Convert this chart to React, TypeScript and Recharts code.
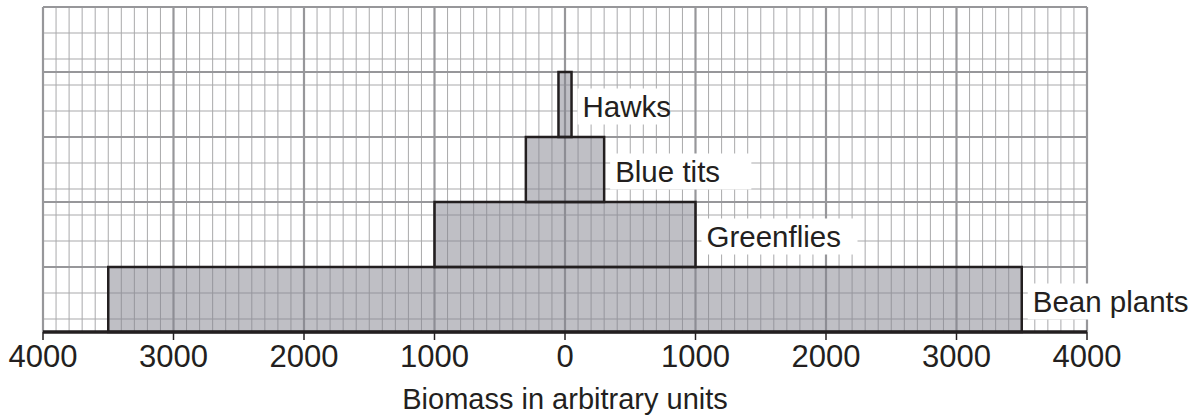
import React from "react";
import { ComposedChart, XAxis, YAxis, CartesianGrid, ReferenceArea, ReferenceLine, Label } from "recharts";

// Pyramid of biomass: each trophic level is a box centred on 0.
const levels = ["Bean plants", "Greenflies", "Blue tits", "Hawks"];
const biomass = [7000, 2000, 600, 100];
const xTicks = [-4000, -3000, -2000, -1000, 0, 1000, 2000, 3000, 4000];

const minorX: number[] = [];
for (let v = -4000; v <= 4000; v += 100) minorX.push(v);
const minorY: number[] = [];
for (let i = 0; i <= 25; i++) minorY.push(i / 5);
const majorY = [0, 1, 2, 3, 4, 5];

const rows = levels.map((name, i) => ({ name, level: i, hi: biomass[i] / 2 }));

const FONT = "'Liberation Sans', Arial, sans-serif";
const INK = "#231f20";

function SideLabel(props: any) {
  const vb = props.viewBox || {};
  const text: string = props.text;
  const x = vb.x + vb.width + 11;
  const cy = vb.y + vb.height / 2 + 2;
  const w = text.length * 14.8 + 8;
  return (
    <g>
      <rect x={x - 5} y={cy - 18} width={w} height={36} fill="#fff" />
      <text x={x} y={cy} dominantBaseline="central" fontSize={29.5} fontFamily={FONT} fill={INK}>
        {text}
      </text>
    </g>
  );
}

export default function App() {
  return (
    <div style={{ position: "absolute", left: 0, top: 0 }}>
      <ComposedChart width={1194} height={417} data={rows} margin={{ top: 7, right: 107, left: 43, bottom: 0 }}>
        <XAxis
          type="number"
          dataKey="hi"
          domain={[-4000, 4000]}
          ticks={xTicks}
          tickFormatter={(v: number) => String(Math.abs(v))}
          height={85}
          tickSize={8}
          tickMargin={5}
          tick={{ fontSize: 31, fontFamily: FONT, fill: INK }}
          axisLine={false}
          tickLine={{ stroke: INK, strokeWidth: 1.5 }}
          interval={0}
          allowDataOverflow
        >
          <Label value="Biomass in arbitrary units" position="insideBottom" offset={8} style={{ fontSize: 29, fontFamily: FONT, fill: INK }} />
        </XAxis>
        <YAxis type="number" dataKey="level" domain={[0, 5]} hide allowDataOverflow />
        <CartesianGrid verticalValues={minorX} horizontalValues={minorY} stroke="#a9a9ab" strokeWidth={1} />
        <CartesianGrid verticalValues={xTicks} horizontalValues={majorY} stroke="#97979a" strokeWidth={2.2} />
        {levels.map((name, i) => (
          <ReferenceArea
            key={name}
            x1={-biomass[i] / 2}
            x2={biomass[i] / 2}
            y1={i}
            y2={i + 1}
            fill="#85858f"
            fillOpacity={0.52}
            stroke={INK}
            strokeWidth={2.5}
            strokeOpacity={1}
            ifOverflow="visible"
            label={(p: any) => <SideLabel {...p} text={name} />}
          />
        ))}
        <ReferenceLine y={0} stroke={INK} strokeWidth={3.5} ifOverflow="visible" />
      </ComposedChart>
    </div>
  );
}
